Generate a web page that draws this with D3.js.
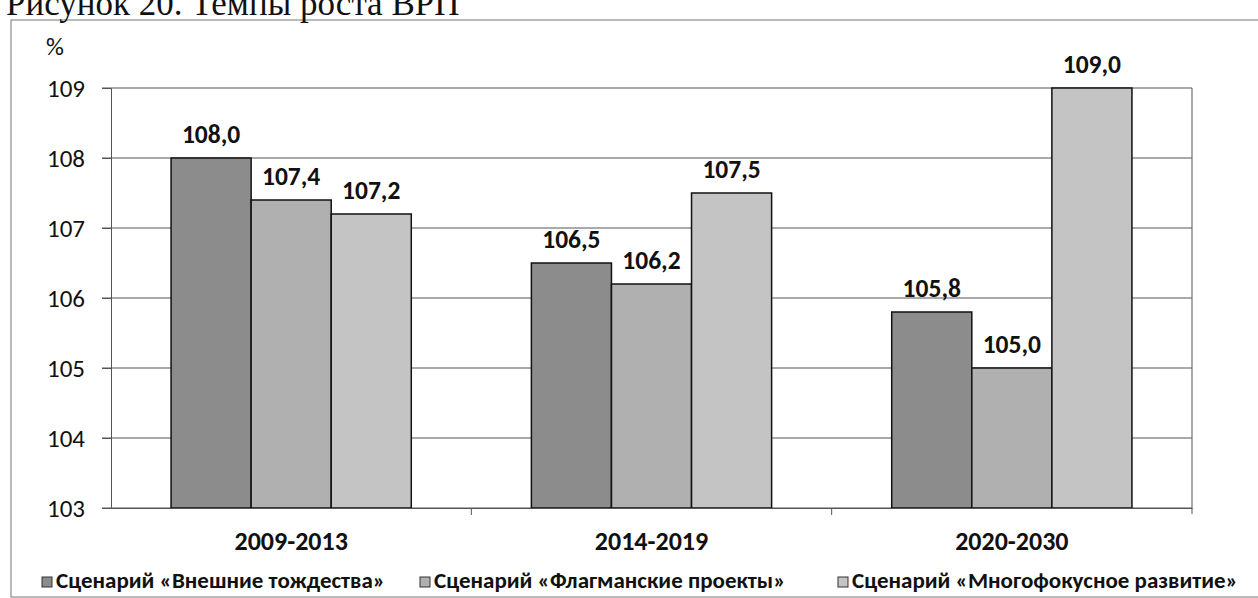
<!DOCTYPE html>
<meta charset="utf-8">
<head>
	<title>Темпы роста ВРП</title>
</head>

<style>
	body { margin: 0; background: #fff; }
	svg text { font-family: Carlito, Calibri, "Open Sans", sans-serif; fill: #111; }
	.title { font-family: "Liberation Serif", "DejaVu Serif", serif !important; }
</style>

<body>

	<div id="wrapper"></div>

	<script src="https://cdnjs.cloudflare.com/ajax/libs/d3/7.8.5/d3.min.js"></script>
	<script>

	var categories = ["2009-2013", "2014-2019", "2020-2030"];
	var seriesNames = [
		"Сценарий «Внешние тождества»",
		"Сценарий «Флагманские проекты»",
		"Сценарий «Многофокусное развитие»"
	];
	var vneshnie = [108.0, 106.5, 105.8];
	var flagman = [107.4, 106.2, 105.0];
	var mnogofokus = [107.2, 107.5, 109.0];
	var yTicks = [103, 104, 105, 106, 107, 108, 109];

	var seriesValues = [vneshnie, flagman, mnogofokus];
	var colors = ["#8c8c8c", "#b0b0b0", "#c4c4c4"];

	var width = 1258, height = 598;
	var svg = d3.select("#wrapper").append("svg")
		.attr("width", width)
		.attr("height", height);

	// outer frame
	svg.append("rect")
		.attr("x", 11).attr("y", 20)
		.attr("width", 1270).attr("height", 577)
		.attr("fill", "none")
		.attr("stroke", "#777")
		.attr("stroke-width", 1);

	// caption above the chart, cut off by the page edge as in the scan
	svg.append("text")
		.attr("class", "title")
		.attr("x", 6).attr("y", 15)
		.style("font-size", "35px")
		.text("Рисунок 20. Темпы роста ВРП");

	var x = d3.scaleBand().domain(categories).range([111, 1192]);
	var xInner = d3.scaleBand().domain(d3.range(3)).range([0, x.bandwidth()]).paddingOuter(0.75);
	var y = d3.scaleLinear().domain([103, 109]).range([508, 88]);

	// gridlines
	svg.append("g").selectAll("line")
		.data(yTicks)
		.join("line")
		.attr("x1", 102).attr("x2", 1192)
		.attr("y1", d => y(d)).attr("y2", d => y(d))
		.attr("stroke", "#555")
		.attr("stroke-width", 1);

	// y axis
	var yAxis = svg.append("g")
		.attr("transform", "translate(111,0)")
		.call(d3.axisLeft(y).tickValues(yTicks).tickSize(9).tickFormat(d3.format("d")));
	yAxis.select(".domain").attr("stroke", "#555");
	yAxis.selectAll(".tick line").attr("stroke", "#555");
	yAxis.selectAll("text")
		.attr("x", -26)
		.style("font-size", "25px")
		.attr("fill", "#111");

	svg.append("text")
		.attr("x", 46).attr("y", 55)
		.style("font-size", "25px")
		.text("%");

	// right border of plot area
	svg.append("line")
		.attr("x1", 1192).attr("x2", 1192)
		.attr("y1", 88).attr("y2", 514)
		.attr("stroke", "#555");

	// bars
	var groups = svg.append("g").selectAll("g")
		.data(categories)
		.join("g")
		.attr("transform", d => "translate(" + x(d) + ",0)");

	groups.selectAll("rect")
		.data((c, i) => seriesValues.map((s, k) => ({ k: k, v: s[i] })))
		.join("rect")
		.attr("x", d => xInner(d.k))
		.attr("y", d => y(d.v))
		.attr("width", xInner.bandwidth())
		.attr("height", d => y(103) - y(d.v))
		.attr("fill", d => colors[d.k])
		.attr("stroke", "#111")
		.attr("stroke-width", 1.5);

	groups.selectAll("text.val")
		.data((c, i) => seriesValues.map((s, k) => ({ k: k, v: s[i] })))
		.join("text")
		.attr("class", "val")
		.attr("x", d => xInner(d.k) + xInner.bandwidth() / 2)
		.attr("y", d => y(d.v) - 15)
		.attr("text-anchor", "middle")
		.style("font-size", "25.5px")
		.style("font-weight", "bold")
		.text(d => d3.format(".1f")(d.v).replace(".", ","));

	// x axis
	var xAxis = svg.append("g")
		.attr("transform", "translate(0,508)")
		.call(d3.axisBottom(x).tickSize(0).tickPadding(0));
	xAxis.select(".domain").attr("stroke", "#555");
	xAxis.selectAll("text")
		.attr("y", 42)
		.attr("dy", 0)
		.style("font-size", "26px")
		.style("font-weight", "bold")
		.attr("fill", "#111");

	svg.append("g").selectAll("line")
		.data(categories.slice(1))
		.join("line")
		.attr("x1", d => x(d)).attr("x2", d => x(d))
		.attr("y1", 508).attr("y2", 515)
		.attr("stroke", "#555");

	// legend
	var legendX = [42, 420, 838];
	var legend = svg.append("g").selectAll("g")
		.data(seriesNames)
		.join("g")
		.attr("transform", (d, i) => "translate(" + legendX[i] + ",577)");

	legend.append("rect")
		.attr("width", 10).attr("height", 10)
		.attr("fill", (d, i) => colors[i])
		.attr("stroke", "#333");

	legend.append("text")
		.attr("x", 14).attr("y", 11)
		.style("font-size", "23px")
		.style("font-weight", "bold")
		.text(d => d);

	</script>
</body>
</html>
